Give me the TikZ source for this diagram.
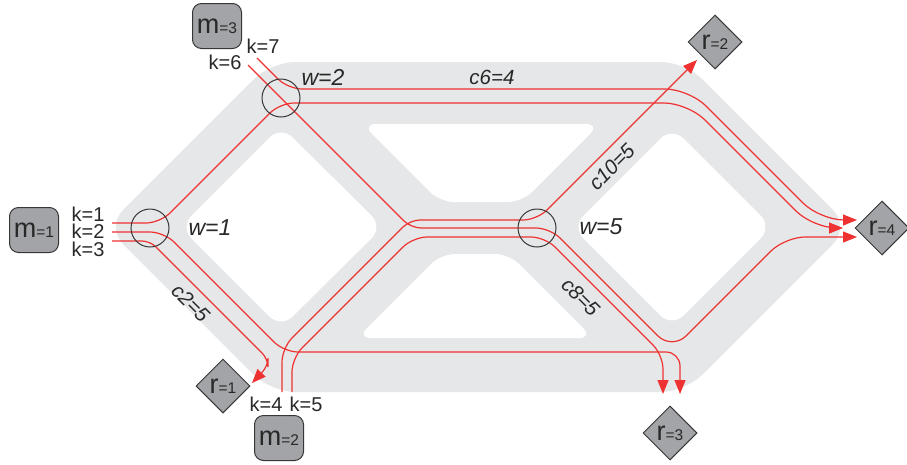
\documentclass[tikz,border=0pt]{standalone}
\usepackage{fontspec}
\setmainfont{Liberation Sans}
\usetikzlibrary{shapes.geometric,arrows.meta}
\definecolor{road}{RGB}{230,231,232}
\definecolor{rl}{RGB}{238,50,50}
\definecolor{nodef}{RGB}{163,164,167}
\definecolor{edgec}{RGB}{55,55,55}
\definecolor{txt}{RGB}{40,40,40}
\newcommand{\biglbl}[2]{{\fontsize{27}{27}\selectfont #1}{\fontsize{15.5}{15.5}\selectfont =#2}}
\begin{document}
\begin{tikzpicture}[x=1pt,y=-1pt,
  route/.style={draw=rl, line width=1.2pt, rounded corners=14pt},
  tip/.style={-{Triangle[length=14pt,width=11pt]}},
  mbox/.style={draw=edgec, fill=nodef, rounded corners=9pt, minimum width=49pt, minimum height=45pt, line width=1pt, inner sep=0pt, text=txt},
  rdia/.style={draw=edgec, fill=nodef, diamond, minimum width=54pt, minimum height=54pt, inner sep=0pt, line width=1pt, text=txt},
  wcirc/.style={circle, draw=edgec, line width=1pt, minimum size=38pt, inner sep=0pt},
  klab/.style={text=txt, inner sep=0pt, font=\fontsize{20}{20}\selectfont},
  wlab/.style={text=txt, inner sep=0pt, font=\fontsize{23}{23}\selectfont\itshape},
  clab/.style={text=txt, inner sep=0pt, font=\fontsize{20.5}{20.5}\selectfont\itshape}]
\useasboundingbox (0,0) rectangle (907,464);
% road network
\fill[road, rounded corners=24pt] (188.5,144.5) -- (271,62) -- (685,62) -- (850,227) -- (685,392) -- (271,392) -- (106,227) -- cycle;
\fill[white, rounded corners=16pt] (230.5,176.5) -- (281,126) -- (383,227) -- (281,328) -- (180,227) -- cycle;
\fill[white, rounded corners=16pt] (622,177) -- (672,127) -- (772,227) -- (672,327) -- (572,227) -- cycle;
\fill[white, rounded corners=14pt] (481,124) -- (600,124) -- (522,202) -- (440,202) -- (362,124) -- cycle;
\fill[white, rounded corners=14pt] (475,338) -- (357,338) -- (441,254) -- (509,254) -- (593,338) -- cycle;
% coordinates
\coordinate (s1) at (112,223);
\coordinate (s2) at (112,232);
\coordinate (s3) at (112,241);
\coordinate (s6) at (248,65);
\coordinate (s7) at (257,58);
\coordinate (s4) at (282,392);
\coordinate (s5) at (292,392);
\coordinate (e1) at (252,383);
\coordinate (e2) at (697,60);
\coordinate (e3a) at (663,394);
\coordinate (e3b) at (680,394);
\coordinate (e4a) at (857,220);
\coordinate (e4b) at (843,228);
\coordinate (e4c) at (857,237);
% routes
\draw[route,tip] (s7) -- (288,89) [rounded corners=24pt] -- (689,89) -- (820,220) -- (e4a);
\draw[route,tip] (s1) -- (160,223) -- (280,103) [rounded corners=24pt] -- (688,103) -- (813,228) -- (e4b);
\draw[route,tip] (s2) -- (164,232) -- (284,352) -- (680,352) -- (e3b);
\draw[route,tip,rounded corners=8pt] (s3) -- (150,241) -- (268,359) -- (268,366) -- (e1);
\draw[route,tip,rounded corners=10pt] (s6) -- (411,228) [rounded corners=14pt] -- (550,228) [rounded corners=20pt] -- (672,350) -- (785,237) -- (e4c);
\draw[route,tip] (s4) -- (282,348) [rounded corners=10pt] -- (410,220) [rounded corners=14pt] -- (537,220) -- (e2);
\draw[route,tip] (s5) -- (292,358) -- (413,237) -- (545,237) -- (663,355) -- (e3a);
% junction circles
\node[wcirc] (w1) at (150,228) {};
\node[wcirc] (w2) at (281,98) {};
\node[wcirc] (w5) at (537,228) {};
% origin / destination nodes
\node[mbox] (m1) at (34,230) {\biglbl{m}{1}};
\node[mbox] (m3) at (217,26) {\biglbl{m}{3}};
\node[mbox] (m2) at (279,438) {\biglbl{m}{2}};
\node[rdia] (r1) at (223,386) {\biglbl{r}{1}};
\node[rdia] (r2) at (715,42) {\biglbl{r}{2}};
\node[rdia] (r3) at (670,433) {\biglbl{r}{3}};
\node[rdia] (r4) at (882,228) {\biglbl{r}{4}};
% labels
\node[klab] (k1) at (88,214) {k=1};
\node[klab] (k2) at (88,231) {k=2};
\node[klab] (k3) at (88,249) {k=3};
\node[klab] (k7) at (263,46) {k=7};
\node[klab] (k6) at (225,62) {k=6};
\node[klab] (k4) at (266,404) {k=4};
\node[klab] (k5) at (306,404) {k=5};
\node[wlab] (lw1) at (210,228) {w=1};
\node[wlab] (lw2) at (323,77) {w=2};
\node[wlab] (lw5) at (601,227) {w=5};
\node[clab] (c6) at (492,77) {c6=4};
\node[clab, rotate=45] (c10) at (612,167) {c10=5};
\node[clab, rotate=-45] (c2) at (191,303) {c2=5};
\node[clab, rotate=-45] (c8) at (581,297) {c8=5};
\end{tikzpicture}
\end{document}
